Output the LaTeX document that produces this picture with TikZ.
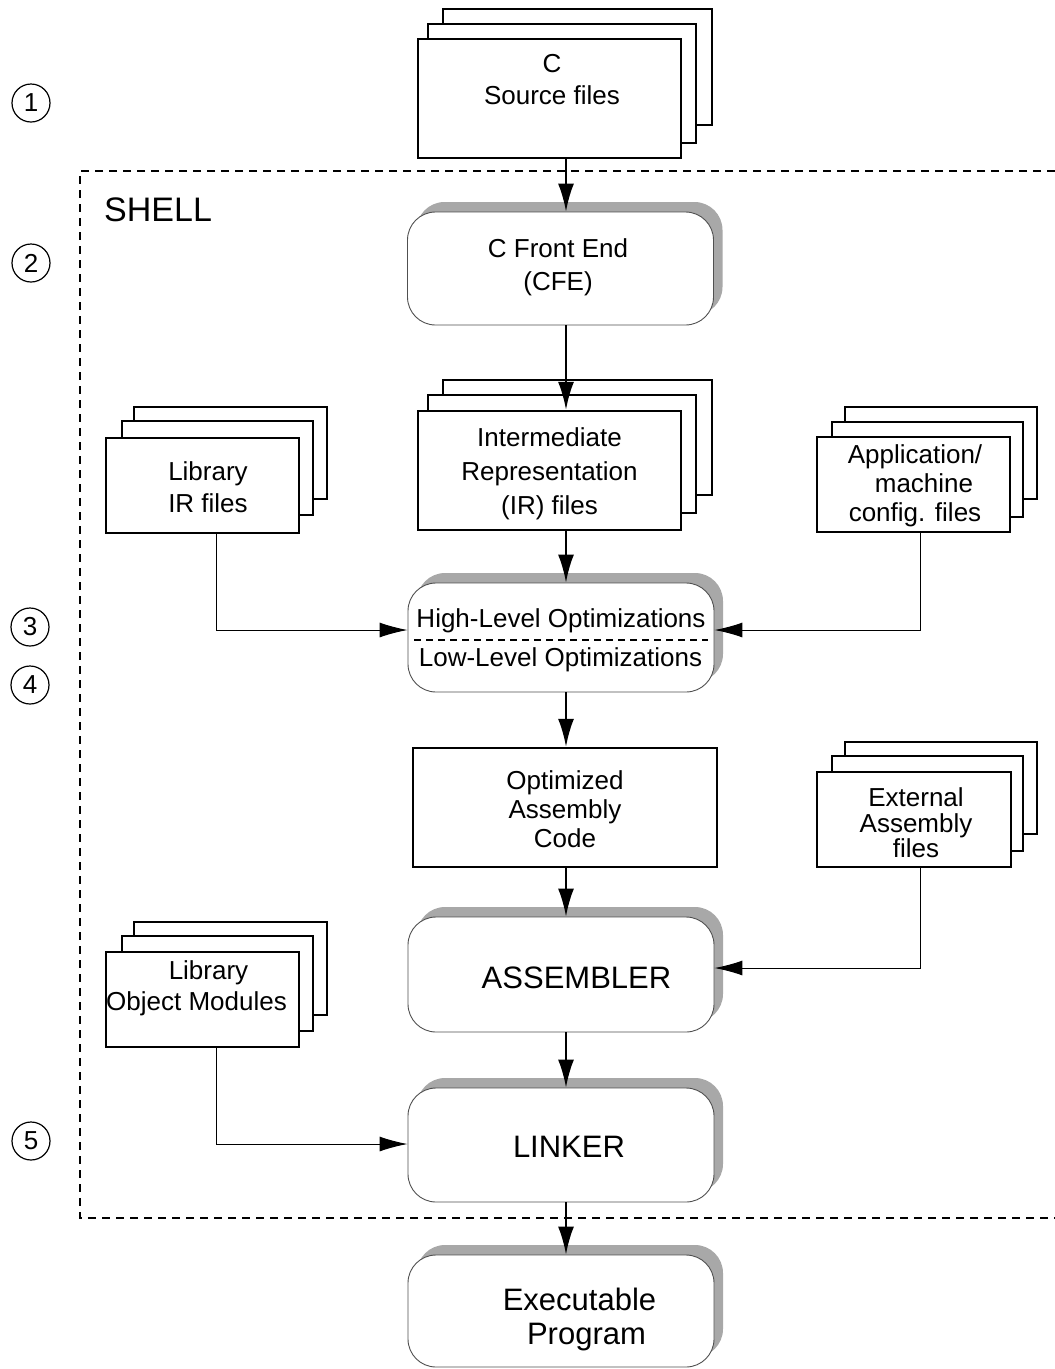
\documentclass[tikz,border=0pt]{standalone}
\usepackage{fontspec}
\setmainfont{Liberation Sans}
\usetikzlibrary{arrows.meta,shadows}
\definecolor{shadowgray}{HTML}{A8A8A8}
\definecolor{rimgray}{HTML}{505050}
\tikzset{
  sq/.style={draw, line width=2.4pt, fill=white, inner sep=0pt},
  rbox/.style={draw=rimgray, line width=0.9pt, fill=white, rounded corners=28pt,
    minimum width=306pt, inner sep=0pt,
    general shadow={shadow xshift=9pt, shadow yshift=10pt, fill=shadowgray, draw=none}},
  txt/.style={font=\fontsize{26}{32}\selectfont, align=center, inner sep=0pt},
  bigtxt/.style={font=\fontsize{31}{34}\selectfont, align=center, inner sep=0pt},
  arr/.style={line width=2.2pt, -{Latex[length=28pt,width=16pt]}},
  side/.style={line width=1pt, -{Latex[length=28pt,width=15pt]}},
  num/.style={circle, draw, line width=1.2pt, minimum size=38pt, inner sep=0pt,
    font=\fontsize{26}{30}\selectfont},
  shellline/.style={dash pattern=on 8pt off 6pt, line width=2pt}
}
\begin{document}
\begin{tikzpicture}[x=1pt,y=-1pt]
\useasboundingbox (0,0) rectangle (1055,1369);

% shell boundary
\draw[shellline] (1055,171) -- (80,171) -- (80,1218) -- (1055,1218);
\node[anchor=base west, inner sep=0pt, font=\fontsize{34}{40}\selectfont] (shell) at (104,221) {SHELL};

% step numbers
\node[num] (n1) at (31,103) {1};
\node[num] (n2) at (31,263) {2};
\node[num] (n3) at (30,627) {3};
\node[num] (n4) at (30,685) {4};
\node[num] (n5) at (31,1141) {5};

% C source files stack
\draw[sq] (443,9) rectangle (712,125);
\draw[sq] (428,24) rectangle (696,143);
\node[sq, minimum width=263pt, minimum height=119pt] (src) at (549.5,98.5) {};
\node[txt] (srcT) at (552,80) {C\\Source files};

% C front end
\node[rbox, minimum height=113pt] (cfe) at (560.5,268.5) {};
\node[txt, font=\fontsize{26}{33}\selectfont] (cfeT) at (558,267.5) {C Front End\\(CFE)};

% IR files stack
\draw[sq] (443,380) rectangle (712,495);
\draw[sq] (428,395) rectangle (696,513);
\node[sq, minimum width=263pt, minimum height=119pt] (ir) at (549.5,470.5) {};
\node[txt, font=\fontsize{26}{34}\selectfont] (irT) at (549.5,474) {Intermediate\\Representation\\(IR) files};

% Library IR files stack
\draw[sq] (134,407) rectangle (327,499);
\draw[sq] (122,421) rectangle (313,515);
\node[sq, minimum width=193pt, minimum height=95pt] (libir) at (202.5,485.5) {};
\node[txt] (libirT) at (208,487) {Library\\IR files};

% Application / machine config files stack
\draw[sq] (845,407) rectangle (1037,499);
\draw[sq] (832,422) rectangle (1023,517);
\node[sq, minimum width=193pt, minimum height=95pt] (app) at (913.5,484.5) {};
\node[txt, font=\fontsize{26}{29}\selectfont] (appT) at (915,485.5) {Application/\\\hspace*{18pt}machine\\config. files};

% Optimizations
\node[rbox, minimum height=109pt] (opt) at (561,637.5) {};
\draw[dash pattern=on 7pt off 5pt, line width=1.3pt] (414,640) -- (708,640);
\node[txt] (hlo) at (561,621) {High-Level Optimizations};
\node[txt] (llo) at (560.5,660) {Low-Level Optimizations};

% Optimized assembly code
\node[sq, minimum width=304pt, minimum height=119pt] (oac) at (565,807.5) {};
\node[txt, font=\fontsize{26}{29}\selectfont] (oacT) at (565,809.5) {Optimized\\Assembly\\Code};

% External assembly files stack
\draw[sq] (845,742) rectangle (1037,834);
\draw[sq] (832,756) rectangle (1023,851);
\node[sq, minimum width=194pt, minimum height=95pt] (ext) at (914,819.5) {};
\node[txt, font=\fontsize{26}{25.5}\selectfont] (extT) at (916,823) {External\\Assembly\\files};

% Assembler
\node[rbox, minimum height=115pt] (asm) at (561,974.5) {};
\node[bigtxt] (asmT) at (576.5,977.5) {ASSEMBLER};

% Library object modules stack
\draw[sq] (134,922) rectangle (327,1015);
\draw[sq] (122,936) rectangle (313,1031);
\node[sq, minimum width=193pt, minimum height=95pt] (libobj) at (202.5,999.5) {};
\node[txt, font=\fontsize{26}{31}\selectfont] (libobjT) at (196.5,988) {\hspace*{24pt}Library\\Object Modules};

% Linker
\node[rbox, minimum height=114pt] (lnk) at (561,1145) {};
\node[bigtxt] (lnkT) at (569,1147) {LINKER};

% Executable program
\node[rbox, minimum height=112pt] (exe) at (561,1311) {};
\node[bigtxt] (exeT) at (579.5,1319) {Executable\\\hspace*{14pt}Program};

% main flow
\coordinate (col) at (566,0);
\draw[arr] (src.south -| col) -- (cfe.north -| col);
\draw[arr] (cfe.south -| col) -- (ir.north -| col);
\draw[arr] (ir.south -| col) -- (opt.north -| col);
\draw[arr] (opt.south -| col) -- (oac.north -| col);
\draw[arr] (oac.south -| col) -- (asm.north -| col);
\draw[arr] (asm.south -| col) -- (lnk.north -| col);
\draw[arr] (lnk.south -| col) -- (exe.north -| col);

% side inputs
\coordinate (jLibir) at (216,630);
\coordinate (jApp) at (920.5,630);
\coordinate (jExt) at (920.5,968);
\coordinate (jLibobj) at (216,1144);
\draw[side] (libir.south -| jLibir) |- (opt.west |- jLibir);
\draw[side] (app.south -| jApp) |- (opt.east |- jApp);
\draw[side] (ext.south -| jExt) |- (asm.east |- jExt);
\draw[side] (libobj.south -| jLibobj) |- (lnk.west |- jLibobj);
\end{tikzpicture}
\end{document}
